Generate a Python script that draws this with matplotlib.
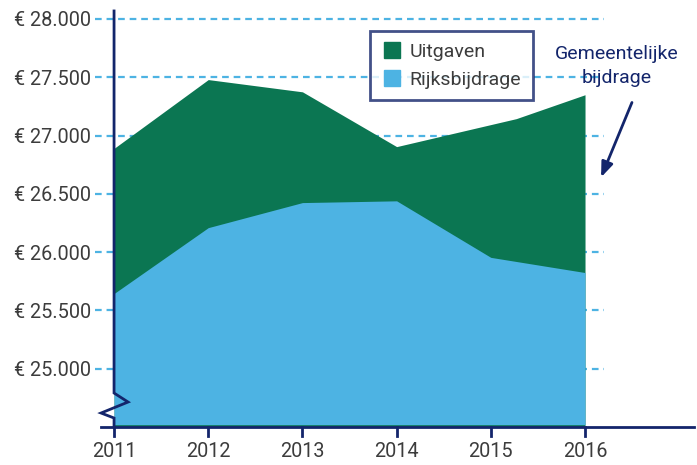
import matplotlib
matplotlib.use('Agg')
import matplotlib.pyplot as plt
from matplotlib.ticker import FuncFormatter

# data (euro, x = year)
uitgaven_jaren = [2011, 2012, 2013, 2014, 2015.27, 2016]
uitgaven = [26890, 27480, 27375, 26905, 27145, 27350]
rijks_jaren = [2011, 2012, 2013, 2014, 2015, 2016]
rijksbijdrage = [25645, 26210, 26425, 26440, 25955, 25825]
y_ticks = [25000, 25500, 26000, 26500, 27000, 27500, 28000]
x_ticks = [2011, 2012, 2013, 2014, 2015, 2016]

GREEN = '#0b7652'
BLUE = '#4db3e3'
NAVY = '#13256b'
TEXT = '#3c3c3c'
FS = 14.3
plt.rcParams['font.family'] = ['Roboto', 'DejaVu Sans']

fig = plt.figure(figsize=(6.97, 4.65), dpi=100)
ax = fig.add_axes([0.1366, 0.0817, 0.8514, 0.9026])
x_lo, x_hi = 2010.8, 2017.1
y_lo, y_hi = 24500, 28100
ax.set_xlim(x_lo, x_hi)
ax.set_ylim(y_lo, y_hi)

# dashed grid lines, only up to just past 2016
ax.hlines(y_ticks, x_lo, 2016.2, colors=BLUE, linestyles=(0, (3, 2.2)),
          linewidth=1.6, zorder=1)

# areas: green drawn full height, blue on top of it
ax.fill_between(uitgaven_jaren, y_lo, uitgaven, color=GREEN, linewidth=0, zorder=2)
ax.fill_between(rijks_jaren, y_lo + 20, rijksbijdrage, color=BLUE, linewidth=0, zorder=3)

for s in ax.spines.values():
    s.set_visible(False)

# axes drawn by hand (left axis with break mark)
ppy = 94.2  # px per year
ppe = 116.67 / 1000  # px per euro
def dx(px):
    return px / ppy
def dy(px):
    return px / ppe

ax.plot([2011, 2011, 2011 + dx(14), 2011 - dx(13), 2011, 2011],
        [28000 + dy(8), 24500 + dy(34), 24500 + dy(25), 24500 + dy(14), 24500 + dy(9), 24500],
        color=NAVY, linewidth=2, clip_on=False, zorder=5, solid_joinstyle='miter')
ax.plot([2011 - dx(13), 2011 + dx(580)], [24500, 24500], color=NAVY, linewidth=2,
        clip_on=False, zorder=5)
for x in x_ticks:
    ax.plot([x, x], [24500, 24500 - dy(9)], color=NAVY, linewidth=2, clip_on=False, zorder=5)

ax.set_yticks(y_ticks)
ax.set_xticks(x_ticks)
ax.yaxis.set_major_formatter(FuncFormatter(lambda v, p: '€ ' + f'{int(v):,}'.replace(',', '.')))
ax.tick_params(axis='y', length=0, pad=3, labelsize=FS, labelcolor=TEXT)
ax.tick_params(axis='x', length=0, pad=11, labelsize=FS, labelcolor=TEXT)

# legend
h1 = plt.Line2D([], [], marker='s', linestyle='none', markersize=12, color=GREEN)
h2 = plt.Line2D([], [], marker='s', linestyle='none', markersize=12, color=BLUE)
leg = ax.legend([h1, h2], ['Uitgaven', 'Rijksbijdrage'], loc='upper left',
                bbox_to_anchor=(0.4628, 0.943), fontsize=14, frameon=True,
                fancybox=False, handletextpad=0.35, labelspacing=0.5,
                borderpad=0.6, handlelength=1.1, borderaxespad=0)
leg.get_frame().set_edgecolor(NAVY)
leg.get_frame().set_linewidth(2)
leg.set_zorder(6)
for t in leg.get_texts():
    t.set_color(TEXT)

# annotation
ax.annotate('', xy=(2011 + dx(486), 28000 - dy(161)), xytext=(2011 + dx(519), 28000 - dy(81)),
            arrowprops=dict(arrowstyle='-|>,head_length=0.9,head_width=0.35',
                            color=NAVY, linewidth=2), zorder=7)
ax.text(2011 + dx(503), 28000 - dy(47), 'Gemeentelijke\nbijdrage', ha='center', va='center',
        fontsize=14, color=NAVY, linespacing=1.45)

fig.savefig('out.png', dpi=100)
